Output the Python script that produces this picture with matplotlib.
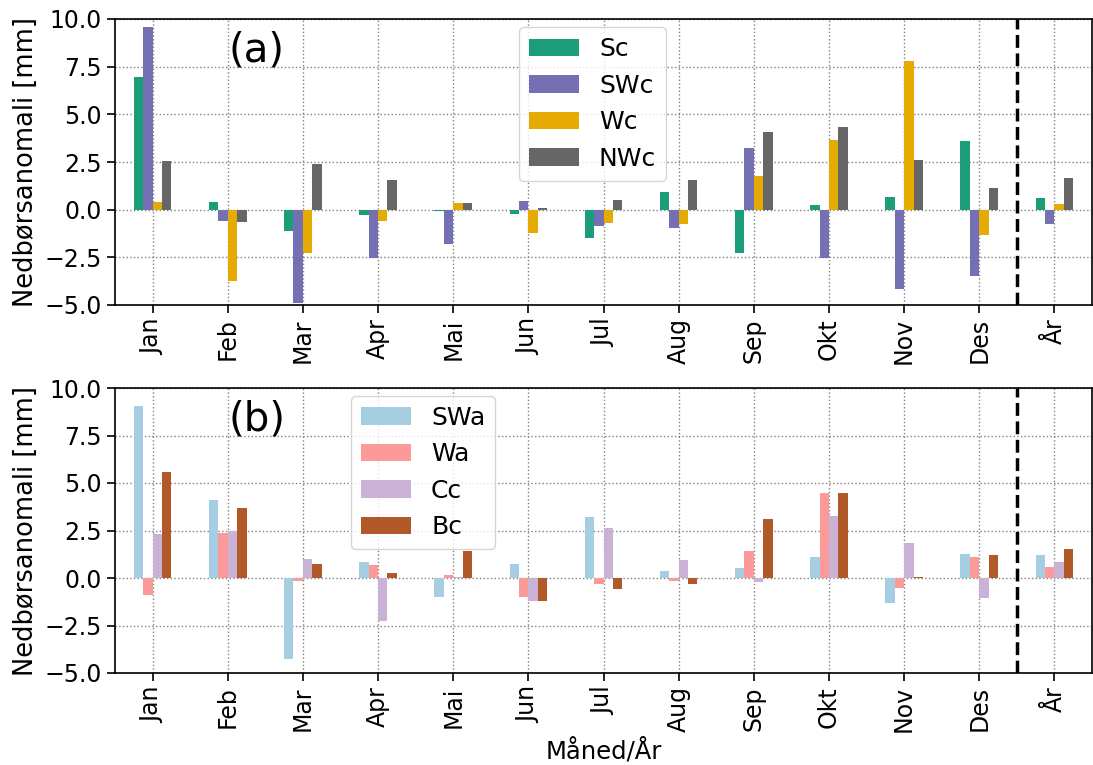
import numpy as np
import matplotlib
matplotlib.use("Agg")
import matplotlib.pyplot as plt

# month labels (Norwegian) plus the annual value
labels = ["Jan", "Feb", "Mar", "Apr", "Mai", "Jun", "Jul", "Aug", "Sep", "Okt", "Nov", "Des", "År"]

# precipitation anomalies [mm], cyclonic types
sc  = [6.95, 0.42, -1.14, -0.26, -0.05, -0.21, -1.47, 0.91, -2.26, 0.26, 0.68, 3.58, 0.63]
swc = [9.56, -0.61, -4.88, -2.51, -1.79, 0.47, -0.84, -0.95, 3.21, -2.51, -4.16, -3.47, -0.74]
wc  = [0.39, -3.74, -2.25, -0.58, 0.33, -1.21, -0.68, -0.74, 1.79, 3.68, 7.79, -1.32, 0.32]
nwc = [2.53, -0.67, 2.42, 1.53, 0.33, 0.10, 0.53, 1.53, 4.05, 4.32, 2.63, 1.16, 1.68]

# anticyclonic / other types
swa = [9.07, 4.12, -4.28, 0.86, -1.02, 0.75, 3.23, 0.39, 0.54, 1.12, -1.30, 1.28, 1.23]
wa  = [-0.91, 2.39, -0.18, 0.70, 0.18, -0.98, -0.30, -0.14, 1.44, 4.49, -0.51, 1.12, 0.60]
cc  = [2.33, 2.46, 1.02, -2.25, 0.07, -1.19, 2.65, 0.96, -0.19, 3.28, 1.86, -1.04, 0.86]
bc  = [5.60, 3.70, 0.75, 0.28, 1.44, -1.19, -0.56, -0.30, 3.12, 4.49, 0.07, 1.23, 1.54]

top_series = [("Sc", sc, "#1b9e77"), ("SWc", swc, "#7570b3"),
              ("Wc", wc, "#e6ab02"), ("NWc", nwc, "#666666")]
bot_series = [("SWa", swa, "#a6cee3"), ("Wa", wa, "#fb9a99"),
              ("Cc", cc, "#cab2d6"), ("Bc", bc, "#b15928")]

x = np.arange(len(labels))
w = 0.125

fig = plt.figure(figsize=(10.93, 7.65), dpi=100)
ax1 = fig.add_axes([115/1093, 1 - 305/765, 977/1093, 286/765])
ax2 = fig.add_axes([115/1093, 1 - 673/765, 977/1093, 285/765])


def draw(ax, series, tag, leg_x):
    for i, (name, vals, col) in enumerate(series):
        ax.bar(x + (i - 1.5) * w, vals, width=w, color=col, label=name, zorder=2)
    ax.set_xlim(-0.5, 12.5)
    ax.set_ylim(-5, 10)
    ax.set_yticks([-5, -2.5, 0, 2.5, 5, 7.5, 10])
    ax.set_yticklabels(["−5.0", "−2.5", "0.0", "2.5", "5.0", "7.5", "10.0"])
    ax.set_xticks(x)
    ax.set_xticklabels(labels, rotation=90)
    ax.tick_params(labelsize=17, length=6, width=1.2)
    ax.grid(True, linestyle=":", color="gray", linewidth=1, zorder=0)
    ax.set_axisbelow(True)
    ax.axvline(11.5, color="black", linestyle="--", linewidth=2.5, zorder=3)
    ax.set_ylabel("Nedbørsanomali [mm]", fontsize=18.5)
    ax.text(0.145, 0.89, tag, transform=ax.transAxes, fontsize=29,
            ha="center", va="center")
    ax.legend(loc="upper left", bbox_to_anchor=(leg_x, 0.972), borderaxespad=0,
              fontsize=18, labelspacing=0.5)
    for s in ax.spines.values():
        s.set_linewidth(1.2)


draw(ax1, top_series, "(a)", 0.4135)
draw(ax2, bot_series, "(b)", 0.2416)
ax2.set_xlabel("Måned/År", fontsize=17.5)

fig.savefig("out.png", dpi=100)
